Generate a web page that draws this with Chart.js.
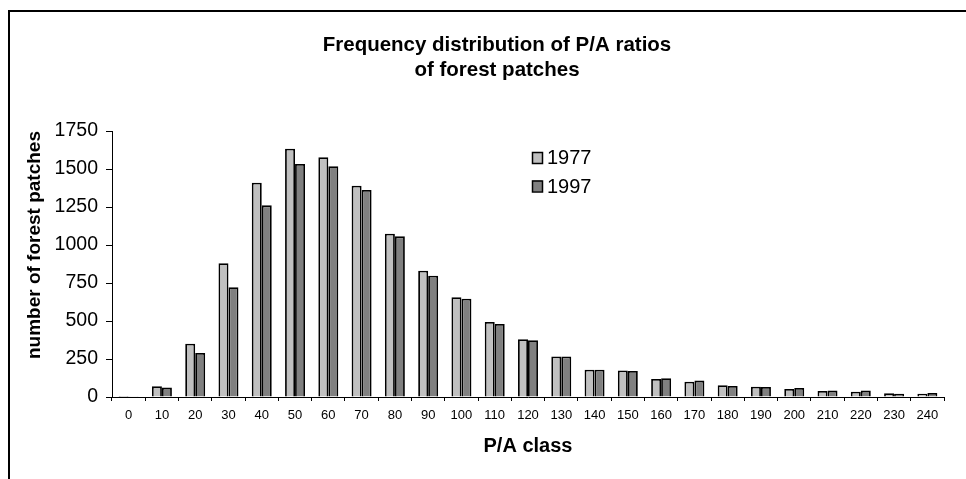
<!DOCTYPE html>
<html>
<head>
<meta charset="utf-8">
<script src="https://cdn.jsdelivr.net/npm/chart.js@4/dist/chart.umd.min.js"></script>
<style>
  html, body { margin: 0; padding: 0; background: #fff; }
  #wrap { position: relative; width: 966px; height: 479px; overflow: hidden; }
  #frame { position: absolute; left: 8px; top: 10px; width: 1000px; height: 500px;
           border-left: 2px solid #000; border-top: 2px solid #000; }
  #chart { position: absolute; left: 0; top: 0; }
</style>
</head>
<body>
<div id="wrap">
  <div id="frame"></div>
  <canvas id="chart" width="966" height="479"></canvas>
</div>
<script>
// data
const classes = ['0', '10', '20', '30', '40', '50', '60', '70', '80', '90', '100', '110', '120',
  '130', '140', '150', '160', '170', '180', '190', '200', '210', '220', '230', '240'];
const values1977 = [6, 70, 351, 880, 1410, 1634, 1577, 1390, 1074, 831, 657, 493, 380,
  266, 180, 174, 118, 101, 77, 68, 53, 39, 35, 24, 22];
const values1997 = [5, 62, 290, 722, 1261, 1533, 1518, 1362, 1057, 798, 646, 480, 373,
  266, 180, 171, 123, 108, 72, 66, 59, 42, 42, 22, 26];
const yTicks = [0, 250, 500, 750, 1000, 1250, 1500, 1750];

const FONT = "'Liberation Sans', Arial, sans-serif";

// legend drawn inside the plot, like the original
const innerLegend = {
  id: 'innerLegend',
  afterDraw(chart) {
    const ctx = chart.ctx;
    ctx.save();
    ctx.font = `20px ${FONT}`;
    ctx.textBaseline = 'middle';
    chart.data.datasets.forEach((ds, i) => {
      const x = 532, y = 152 + i * 28.5;
      ctx.fillStyle = ds.backgroundColor;
      ctx.fillRect(x, y, 10, 11);
      ctx.strokeStyle = '#000';
      ctx.lineWidth = 1.5;
      ctx.strokeRect(x + 0.5, y + 0.5, 10, 11);
      ctx.fillStyle = '#000';
      ctx.fillText(ds.label, 547, y + 6.5);
    });
    ctx.restore();
  }
};

new Chart(document.getElementById('chart'), {
  type: 'bar',
  data: {
    labels: classes,
    datasets: [
      { label: '1977', data: values1977, backgroundColor: '#c0c0c0', borderColor: '#000', borderWidth: 1.8 },
      { label: '1997', data: values1997, backgroundColor: '#808080', borderColor: '#000', borderWidth: 1.8 }
    ]
  },
  options: {
    responsive: false,
    animation: false,
    // left padding only moves the title centre; the y axis width makes up the rest
    layout: { padding: { left: 50, right: 22, top: 0, bottom: 0 } },
    datasets: { bar: { categoryPercentage: 0.6, barPercentage: 1.0 } },
    plugins: {
      legend: { display: false },
      tooltip: { enabled: false },
      title: {
        display: true,
        text: ['Frequency distribution of P/A ratios', 'of forest patches'],
        color: '#000',
        font: { family: FONT, size: 20.5, weight: 'bold', lineHeight: 1.22 },
        padding: { top: 33, bottom: 48 }
      }
    },
    scales: {
      x: {
        grid: { display: true, drawOnChartArea: false, drawTicks: true, tickLength: 4, color: '#000', offset: true },
        border: { display: true, color: '#000', width: 1 },
        ticks: { color: '#000', font: { family: FONT, size: 13 }, padding: 7, maxRotation: 0, autoSkip: false },
        title: { display: true, text: 'P/A class', color: '#000',
                 font: { family: FONT, size: 20, weight: 'bold' }, padding: { top: 0, bottom: 21 } },
        afterFit(scale) { scale.height = 82; }
      },
      y: {
        min: 0,
        max: 1750,
        grid: { display: true, drawOnChartArea: false, drawTicks: true, tickLength: 6, color: '#000' },
        border: { display: true, color: '#000', width: 1 },
        afterBuildTicks(scale) { scale.ticks = yTicks.map(v => ({ value: v })); },
        ticks: { color: '#000', font: { family: FONT, size: 19.5 }, padding: 8, callback: v => String(v) },
        title: { display: true, text: 'number of forest patches', color: '#000', align: 'end',
                 font: { family: FONT, size: 19, weight: 'bold' }, padding: { top: -26.4, bottom: 0 } },
        afterFit(scale) { scale.width = 62; }
      }
    }
  },
  plugins: [innerLegend]
});
</script>
</body>
</html>
